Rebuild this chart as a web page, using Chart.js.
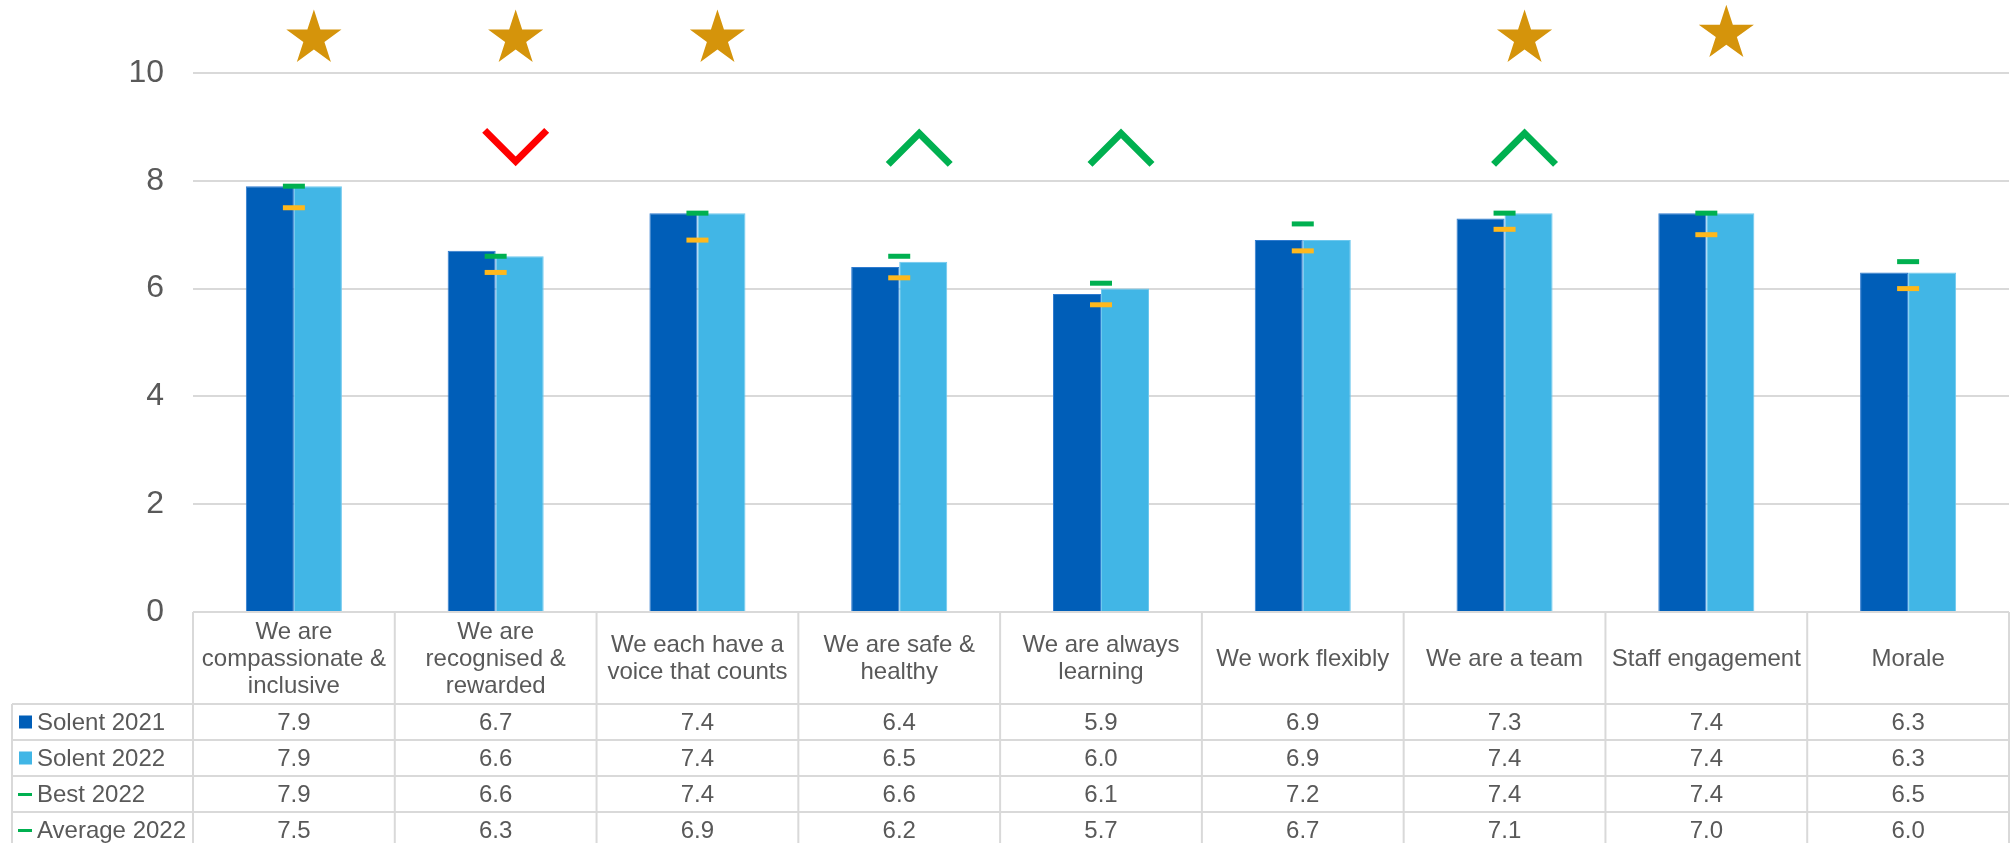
<!DOCTYPE html>
<html>
<head>
<meta charset="utf-8">
<title>Staff survey themes</title>
<script src="https://cdn.jsdelivr.net/npm/chart.js@4.4.1/dist/chart.umd.min.js"></script>
<style>
    body { margin: 0; background: #fff; }
    canvas { display: block; }
</style>
</head>
<body>
<canvas id="surveyChart" width="2013" height="843"></canvas>
<script>
// Theme scores, one entry per people promise / theme
const themes = [
    ["We are", "compassionate &", "inclusive"],
    ["We are", "recognised &", "rewarded"],
    ["We each have a", "voice that counts"],
    ["We are safe &", "healthy"],
    ["We are always", "learning"],
    ["We work flexibly"],
    ["We are a team"],
    ["Staff engagement"],
    ["Morale"]
];
const solent2021 = [7.9, 6.7, 7.4, 6.4, 5.9, 6.9, 7.3, 7.4, 6.3];
const solent2022 = [7.9, 6.6, 7.4, 6.5, 6.0, 6.9, 7.4, 7.4, 6.3];
const best2022 = [7.9, 6.6, 7.4, 6.6, 6.1, 7.2, 7.4, 7.4, 6.5];
const average2022 = [7.5, 6.3, 6.9, 6.2, 5.7, 6.7, 7.1, 7.0, 6.0];
// star = best in class, trend = significant change since 2021
const starred = [true, true, true, false, false, false, true, true, false];
const trend = [null, "down", null, "up", "up", null, "up", null, null];
const yTicks = [0, 2, 4, 6, 8, 10];

const FONT = "'Liberation Sans', Arial, sans-serif";
const TEXT = "#595959";
const LINE = "#d9d9d9";
const BLUE = "#005eb8";
const LIGHT_BLUE = "#41b6e6";
const GREEN = "#00b050";
const AMBER = "#ffb81c";

function drawStar(ctx, cx, cy, r) {
    ctx.beginPath();
    for (let k = 0; k < 10; k++) {
        const rad = k % 2 === 0 ? r : r * 0.382;
        const a = -Math.PI / 2 + k * Math.PI / 5;
        const px = cx + rad * Math.cos(a);
        const py = cy + rad * Math.sin(a);
        if (k === 0) ctx.moveTo(px, py); else ctx.lineTo(px, py);
    }
    ctx.closePath();
    ctx.fillStyle = "#d5940b";
    ctx.fill();
}

function drawChevron(ctx, cx, cy, dir) {
    const s = dir === "up" ? -1 : 1;
    ctx.beginPath();
    ctx.moveTo(cx - 31, cy - 17 * s);
    ctx.lineTo(cx, cy + 14 * s);
    ctx.lineTo(cx + 31, cy - 17 * s);
    ctx.lineWidth = 7;
    ctx.lineJoin = "miter";
    ctx.lineCap = "butt";
    ctx.strokeStyle = dir === "up" ? GREEN : "#ff0000";
    ctx.stroke();
}

// stars and change arrows over each theme
const markersPlugin = {
    id: "markers",
    afterDatasetsDraw(chart) {
        const { ctx, scales: { x, y } } = chart;
        const shift = 20;
        ctx.save();
        themes.forEach((t, i) => {
            const cx = x.getPixelForValue(i) + shift;
            if (starred[i]) drawStar(ctx, cx, y.getPixelForValue(i === 7 ? 10.73 : 10.64), 29);
            if (trend[i]) drawChevron(ctx, cx, y.getPixelForValue(8.62), trend[i]);
        });
        ctx.restore();
    }
};

// data table under the plot, with the legend in its first column
const tablePlugin = {
    id: "dataTable",
    afterDraw(chart) {
        const { ctx, chartArea, scales: { x } } = chart;
        const left = chartArea.left;
        const right = chartArea.right;
        const top = chartArea.bottom;
        const colW = (right - left) / themes.length;
        const headH = 92;
        const rowH = 36;
        const legendLeft = 12;
        const rows = [
            { label: "Solent 2021", values: solent2021, mark: "box", color: BLUE },
            { label: "Solent 2022", values: solent2022, mark: "box", color: LIGHT_BLUE },
            { label: "Best 2022", values: best2022, mark: "dash", color: GREEN },
            { label: "Average 2022", values: average2022, mark: "dash", color: GREEN }
        ];
        const bottom = top + headH + rowH * rows.length;

        ctx.save();
        ctx.strokeStyle = LINE;
        ctx.lineWidth = 2;
        ctx.beginPath();
        ctx.moveTo(left, top); ctx.lineTo(right, top);
        for (let r = 0; r <= rows.length; r++) {
            const yy = top + headH + r * rowH;
            ctx.moveTo(legendLeft, yy); ctx.lineTo(right, yy);
        }
        for (let c = 0; c <= themes.length; c++) {
            const xx = left + c * colW;
            ctx.moveTo(xx, top); ctx.lineTo(xx, bottom);
        }
        ctx.moveTo(legendLeft, top + headH); ctx.lineTo(legendLeft, bottom);
        ctx.stroke();

        ctx.font = "24px " + FONT;
        ctx.fillStyle = TEXT;
        ctx.textAlign = "center";
        ctx.textBaseline = "middle";
        const lineH = 27;
        themes.forEach((lines, i) => {
            const cx = x.getPixelForValue(i);
            const cy = top + headH / 2 + 1;
            lines.forEach((ln, k) => {
                ctx.fillText(ln, cx, cy + (k - (lines.length - 1) / 2) * lineH);
            });
        });

        rows.forEach((row, r) => {
            const cy = top + headH + r * rowH + rowH / 2;
            row.values.forEach((v, i) => {
                ctx.fillStyle = TEXT;
                ctx.textAlign = "center";
                ctx.fillText(v.toFixed(1), x.getPixelForValue(i), cy + 1);
            });
            ctx.fillStyle = row.color;
            if (row.mark === "box") {
                ctx.fillRect(19, cy - 6.5, 13, 13);
            } else {
                ctx.fillRect(18, cy - 1, 14, 3);
            }
            ctx.fillStyle = TEXT;
            ctx.textAlign = "left";
            ctx.fillText(row.label, 37, cy + 1);
        });
        ctx.restore();
    }
};

new Chart(document.getElementById("surveyChart"), {
    type: "bar",
    data: {
        labels: themes,
        datasets: [
            {
                label: "Solent 2021",
                data: solent2021,
                backgroundColor: BLUE,
                borderColor: "#2f7bcf",
                borderWidth: 1,
                order: 2
            },
            {
                label: "Solent 2022",
                data: solent2022,
                backgroundColor: LIGHT_BLUE,
                borderColor: "#6ec8ee",
                borderWidth: 1,
                order: 2
            },
            {
                type: "line",
                label: "Best 2022",
                data: best2022,
                showLine: false,
                pointStyle: "line",
                pointRadius: 11,
                pointBorderWidth: 5,
                pointBorderColor: GREEN,
                order: 1
            },
            {
                type: "line",
                label: "Average 2022",
                data: average2022,
                showLine: false,
                pointStyle: "line",
                pointRadius: 11,
                pointBorderWidth: 5,
                pointBorderColor: AMBER,
                order: 0
            }
        ]
    },
    options: {
        responsive: false,
        animation: false,
        events: [],
        layout: { autoPadding: false, padding: { top: 73, bottom: 231, left: 0, right: 4 } },
        datasets: {
            bar: { categoryPercentage: 0.476, barPercentage: 1 }
        },
        plugins: {
            legend: { display: false },
            tooltip: { enabled: false }
        },
        scales: {
            x: { display: false },
            y: {
                min: 0,
                max: 10,
                afterBuildTicks(scale) {
                    scale.ticks = yTicks.map(v => ({ value: v }));
                },
                afterFit(scale) { scale.width = 193; },
                border: { display: false },
                grid: { color: LINE, lineWidth: 2, drawTicks: false },
                ticks: {
                    padding: 29,
                    color: TEXT,
                    font: { family: FONT, size: 32 }
                }
            }
        }
    },
    plugins: [markersPlugin, tablePlugin]
});
</script>
</body>
</html>
